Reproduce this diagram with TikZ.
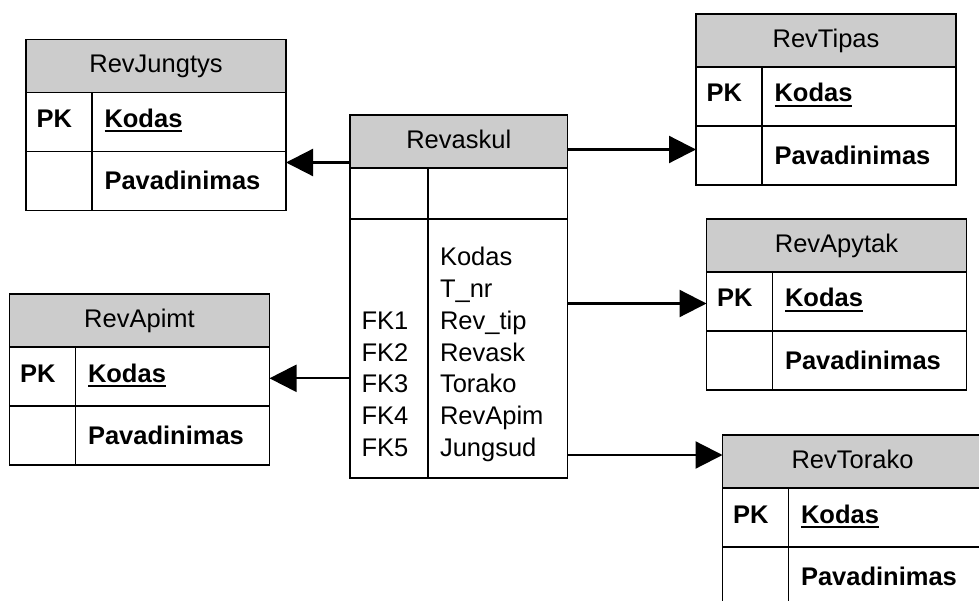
\documentclass[tikz,border=0pt]{standalone}
\usepackage{fontspec}
\setmainfont{Liberation Sans}
\usetikzlibrary{arrows.meta}
\definecolor{hdr}{RGB}{204,204,204}

\tikzset{
  tbl/.style={draw=black, line width=1.8pt, outer sep=0pt, inner sep=0pt,
    anchor=north west,
    path picture={\fill[hdr] (path picture bounding box.north west)
      rectangle ([yshift=-53pt]path picture bounding box.north east);}},
  rule/.style={line width=1.8pt, line cap=rect},
  txt/.style={inner sep=0pt, outer sep=0pt, font=\fontsize{25.5}{31.8}\selectfont},
  txtb/.style={txt, font=\fontsize{25.5}{31.8}\selectfont\bfseries},
  link/.style={line width=2.2pt, -{Triangle[length=27pt,width=27pt]}},
}

% Entity table with a title, a PK row and a plain attribute row
\newcommand\erentity[4]{% name, x, y, title
  \node[tbl, minimum width=260pt, minimum height=171pt] (#1) at (#2,#3) {};
  \draw[rule] ([yshift=-53pt]#1.north west) -- ([yshift=-53pt]#1.north east);
  \draw[rule] ([yshift=-112pt]#1.north west) -- ([yshift=-112pt]#1.north east);
  \draw[rule] ([yshift=-53pt,xshift=66pt]#1.north west) -- ([xshift=66pt]#1.south west);
  \node[txt, anchor=base] (#1-title) at ([yshift=-33.5pt]#1.north) {#4};
  \node[txtb, anchor=base west] (#1-pk) at ([xshift=10.5pt,yshift=-88pt]#1.north west) {PK};
  \node[txtb, anchor=base west] (#1-key) at ([xshift=78.5pt,yshift=-88pt]#1.north west) {Kodas};
  \draw[line width=1.9pt] ([yshift=-3.6pt]#1-key.base west) -- ([yshift=-3.6pt]#1-key.base east);
  \node[txtb, anchor=base west] (#1-name) at ([xshift=78.5pt,yshift=-150.5pt]#1.north west) {Pavadinimas};
}

\begin{document}
\begin{tikzpicture}[x=1pt, y=-1pt]
\useasboundingbox (0,0) rectangle (979,601);
\clip (0,0) rectangle (979,601);

% referenced tables
\erentity{jung}{26}{39.5}{RevJungtys}
\erentity{tipas}{696}{14}{RevTipas}
\erentity{apytak}{706.5}{219}{RevApytak}
\erentity{apimt}{9.5}{294}{RevApimt}
\erentity{torako}{722.5}{435}{RevTorako}

% central table
\node[tbl, minimum width=217.5pt, minimum height=363pt] (rev) at (350,115) {};
\draw[rule] ([yshift=-53.3pt]rev.north west) -- ([yshift=-53.3pt]rev.north east);
\draw[rule] ([yshift=-104.3pt]rev.north west) -- ([yshift=-104.3pt]rev.north east);
\draw[rule] ([yshift=-53.3pt,xshift=78.3pt]rev.north west) -- ([xshift=78.3pt]rev.south west);
\node[txt, anchor=base] (rev-title) at ([yshift=-34pt]rev.north) {Revaskul};

\foreach \lbl [count=\i from 0] in {Kodas,T\_nr,Rev\_tip,Revask,Torako,RevApim,Jungsud}
  \node[txt, anchor=base west] (rev-a\i) at (440,265.7+31.8*\i) {\lbl};
\foreach \lbl [count=\i from 2] in {FK1,FK2,FK3,FK4,FK5}
  \node[txt, anchor=base west] (rev-fk\i) at (361.5,265.7+31.8*\i) {\lbl};

% connector heights
\coordinate (h1) at (0,162.5);
\coordinate (h2) at (0,149.5);
\coordinate (h3) at (0,303.5);
\coordinate (h4) at (0,378.3);
\coordinate (h5) at (0,455);

\draw[link] (rev.west |- h1) -- (jung.east |- h1);
\draw[link] (rev.east |- h2) -- (tipas.west |- h2);
\draw[link] (rev.east |- h3) -- (apytak.west |- h3);
\draw[link] (rev.west |- h4) -- (apimt.east |- h4);
\draw[link] (rev.east |- h5) -- (torako.west |- h5);
\end{tikzpicture}
\end{document}
